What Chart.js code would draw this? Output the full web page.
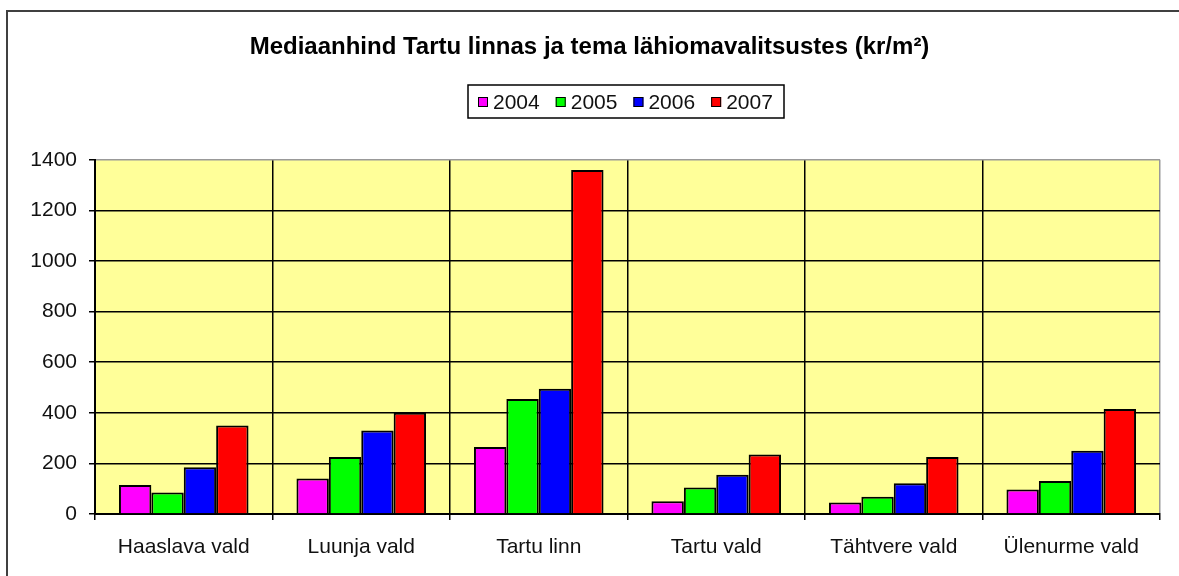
<!DOCTYPE html>
<html><head><meta charset="utf-8">
<script src="https://cdn.jsdelivr.net/npm/chart.js@4.4.1/dist/chart.umd.min.js"></script>
<style>html,body{margin:0;padding:0;background:#fff;overflow:hidden}</style>
</head><body>
<canvas id="c" width="1179" height="576"></canvas>
<script>
const categories = ['Haaslava vald','Luunja vald','Tartu linn','Tartu vald','Tähtvere vald','Ülenurme vald'];
const years = ['2004','2005','2006','2007'];
const v2004 = [115, 140, 265, 50, 45, 97];
const v2005 = [85, 225, 455, 105, 68, 130];
const v2006 = [185, 330, 495, 155, 122, 250];
const v2007 = [350, 400, 1360, 235, 225, 415];
const yMin = 0, yMax = 1400, yStep = 200;
const titleText = 'Mediaanhind Tartu linnas ja tema lähiomavalitsustes (kr/m²)';

const colors = ['#FF00FF', '#00FF00', '#0000FF', '#FF0000'];
const seriesValues = [v2004, v2005, v2006, v2007];
const FONT = '"Liberation Sans", Arial, sans-serif';

const bgPlugin = {
  id: 'bg',
  beforeDraw(chart) {
    const {ctx, chartArea: a} = chart;
    ctx.save();
    ctx.fillStyle = '#fff';
    ctx.fillRect(0, 0, chart.width, chart.height);
    ctx.fillStyle = '#FFFF99';
    ctx.fillRect(a.left, a.top, a.right - a.left, a.bottom - a.top);
    ctx.strokeStyle = '#404040';
    ctx.lineWidth = 2;
    ctx.strokeRect(7, 11, 1400, 800);
    ctx.restore();
  },
  afterDraw(chart) {
    const ctx = chart.ctx;
    ctx.save();
    const lx = 468, ly = 85, lw = 316, lh = 33;
    ctx.strokeStyle = '#000';
    ctx.lineWidth = 1.5;
    ctx.strokeRect(lx, ly, lw, lh);
    ctx.font = '21px ' + FONT;
    ctx.textBaseline = 'middle';
    const cy = ly + lh / 2 + 0.5;
    let x = lx + 10;
    chart.data.datasets.forEach((ds) => {
      ctx.fillStyle = ds.backgroundColor;
      ctx.fillRect(x, cy - 5, 10, 10);
      ctx.strokeStyle = '#000';
      ctx.lineWidth = 1;
      ctx.strokeRect(x + 0.5, cy - 4.5, 9, 9);
      ctx.fillStyle = '#111';
      ctx.fillText(ds.label, x + 15, cy + 1);
      x += 15 + ctx.measureText(ds.label).width + 16;
    });
    ctx.restore();
  }
};

new Chart(document.getElementById('c'), {
  type: 'bar',
  data: {
    labels: categories,
    datasets: years.map((y, i) => ({
      label: y,
      data: seriesValues[i],
      backgroundColor: colors[i],
      borderColor: '#000',
      borderWidth: 2,
      categoryPercentage: 0.73,
      barPercentage: 1.0
    }))
  },
  options: {
    responsive: false,
    animation: false,
    devicePixelRatio: 1,
    layout: { padding: 0 },
    plugins: {
      legend: { display: false },
      tooltip: { enabled: false },
      title: {
        display: true,
        text: titleText,
        color: '#000',
        font: { family: FONT, size: 24, weight: 'bold' },
        padding: { top: 33, bottom: 98 }
      }
    },
    scales: {
      x: {
        afterFit(s) { s.height = 62; },
        grid: {
          color: (c) => (c.type === 'tick' ? '#000' : '#999'),
          lineWidth: 1.5,
          tickColor: '#000',
          tickLength: 6,
          offset: true
        },
        border: { color: '#000', width: 2 },
        ticks: { color: '#111', font: { family: FONT, size: 21 }, padding: 15, maxRotation: 0 }
      },
      y: {
        min: yMin, max: yMax,
        afterFit(s) { s.width = 95; },
        grid: {
          color: (c) => (c.tick && c.tick.value === yMax ? '#999' : '#000'),
          lineWidth: 1.5,
          tickColor: '#000',
          tickLength: 6
        },
        border: { color: '#000', width: 2 },
        ticks: {
          stepSize: yStep, color: '#111', font: { family: FONT, size: 21 }, padding: 12,
          callback: (v) => String(v)
        }
      },
      yRight: {
        position: 'right',
        afterFit(s) { s.width = 19; },
        grid: { display: false, drawTicks: false },
        border: { display: false },
        ticks: { display: false }
      }
    }
  },
  plugins: [bgPlugin]
});
</script>
</body></html>
